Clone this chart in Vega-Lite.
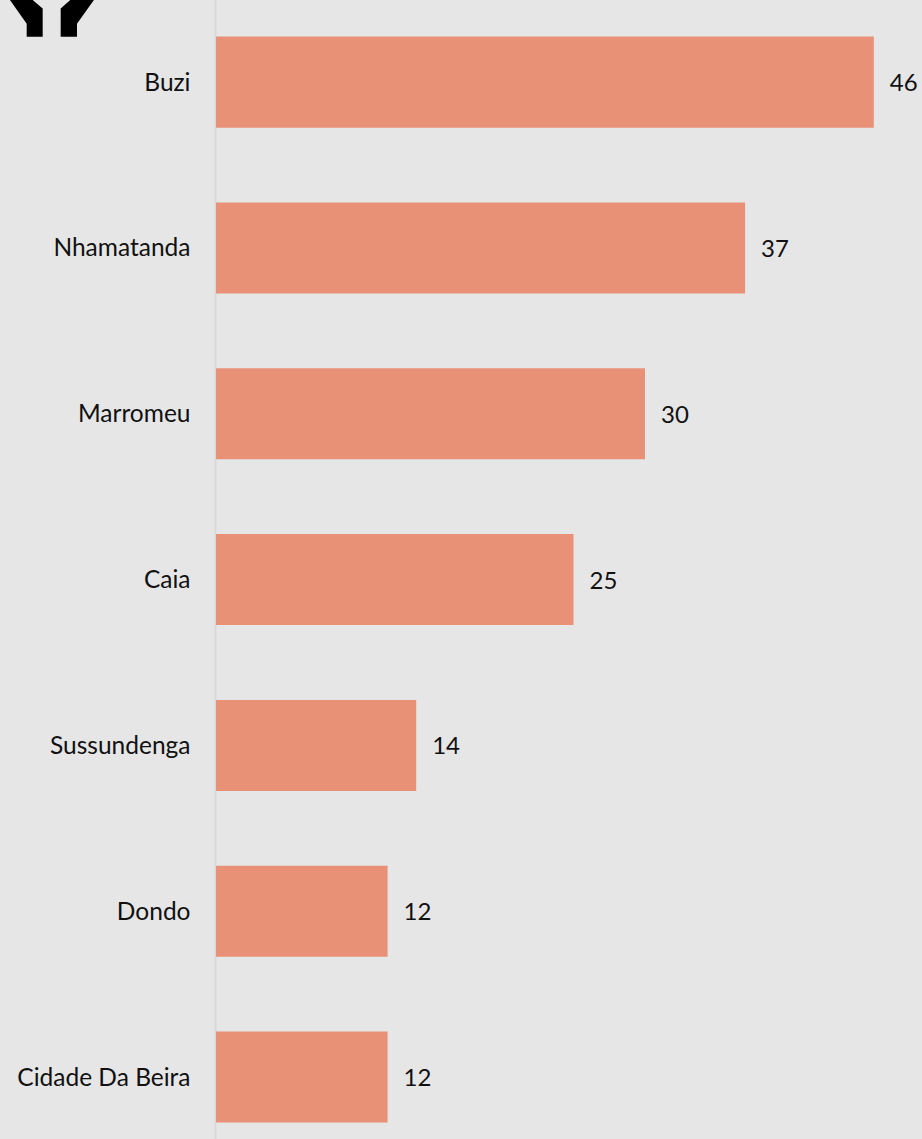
{
  "$schema": "https://vega.github.io/schema/vega-lite/v6.json",
  "autosize": {"type": "none"},
  "padding": {"left": 216, "top": 0, "right": 0, "bottom": 0},
  "width": 706,
  "height": 1139,
  "background": "#e6e6e6",
  "config": {"view": {"stroke": null}},
  "datasets": {
    "districts": [
      {"distrito": "Buzi", "valor": 46},
      {"distrito": "Nhamatanda", "valor": 37},
      {"distrito": "Marromeu", "valor": 30},
      {"distrito": "Caia", "valor": 25},
      {"distrito": "Sussundenga", "valor": 14},
      {"distrito": "Dondo", "valor": 12},
      {"distrito": "Cidade Da Beira", "valor": 12}
    ],
    "icon": [{"distrito": "Buzi", "valor": -11.47}]
  },
  "encoding": {
    "y": {
      "field": "distrito",
      "type": "nominal",
      "sort": null,
      "title": null,
      "scale": {"paddingInner": 0.451, "paddingOuter": 0.16, "align": 0.69},
      "axis": {
        "ticks": false,
        "grid": false,
        "offset": 1,
        "domainColor": "#d9d9d9",
        "domainWidth": 2,
        "labelPadding": 25,
        "labelOffset": 1.5,
        "labelFont": "Lato",
        "labelFontSize": 24.5,
        "labelColor": "#111111",
        "labelLimit": 300
      }
    },
    "x": {
      "field": "valor",
      "type": "quantitative",
      "title": null,
      "scale": {"domain": [0, 49.37], "nice": false, "zero": false},
      "axis": null
    }
  },
  "layer": [
    {
      "data": {"name": "districts"},
      "mark": {"type": "bar", "color": "#e89177"}
    },
    {
      "data": {"name": "districts"},
      "mark": {"type": "text", "align": "left", "baseline": "middle", "dx": 16, "dy": 2, "font": "Lato", "fontSize": 24, "color": "#111111"},
      "encoding": {"text": {"field": "valor", "type": "quantitative"}}
    },
    {
      "data": {"name": "icon"},
      "mark": {
        "type": "point",
        "filled": true,
        "opacity": 1,
        "color": "#000000",
        "size": 4,
        "clip": false,
        "shape": "M-49,-92 L-25.3,-58.5 L-25.3,-45.3 L-9.3,-45.3 L-9.3,-73.7 L-19,-82 L-29,-92 Z M49,-92 L25,-58.5 L25,-45.3 L8.7,-45.3 L8.7,-73.7 L18,-82 L28,-92 Z"
      }
    }
  ]
}
